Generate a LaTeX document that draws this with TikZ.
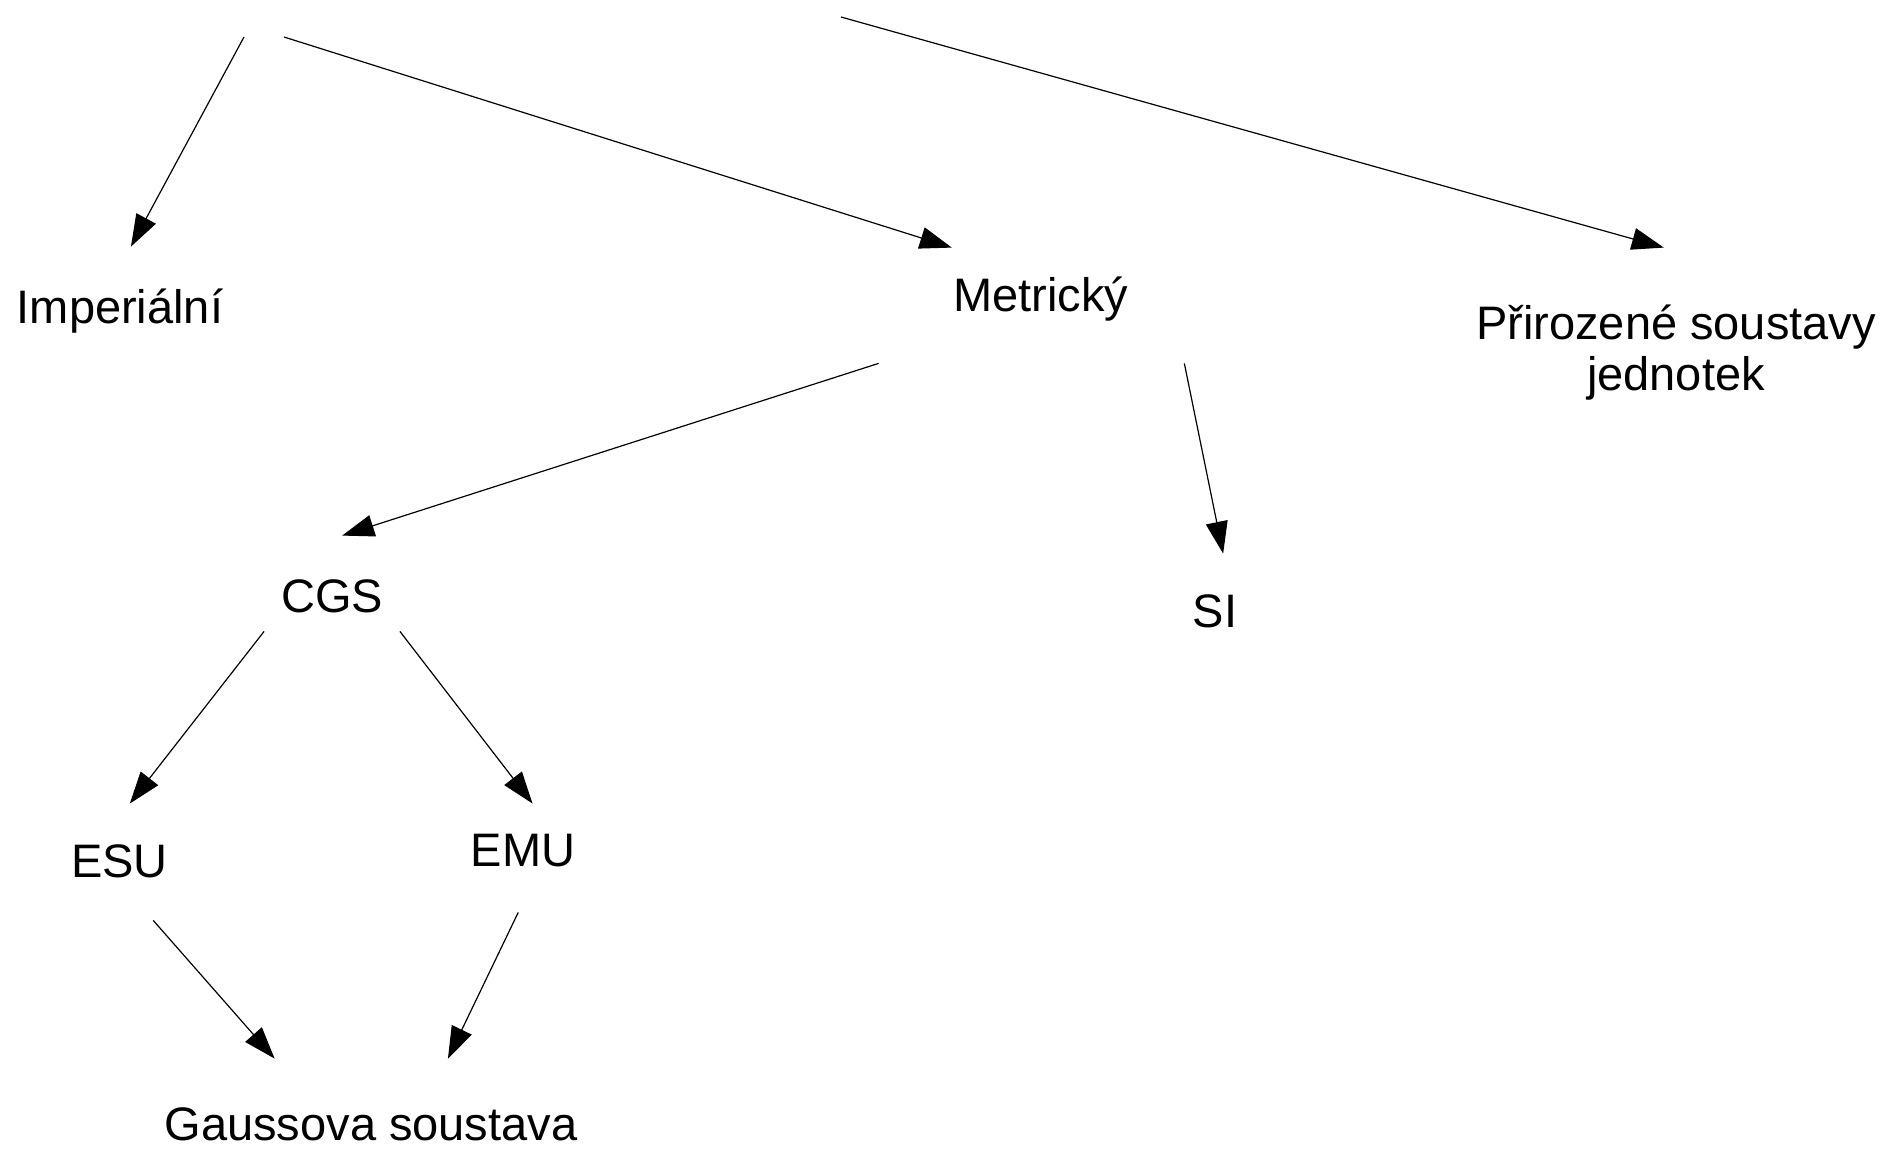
\documentclass[tikz,border=0pt]{standalone}
\usepackage{fontspec}
\setmainfont{Liberation Sans}
\usetikzlibrary{arrows.meta}

\begin{document}
\begin{tikzpicture}[x=0.5pt,y=-0.5pt,
  lbl/.style={inner sep=0pt,anchor=base,font=\fontsize{23.5}{25.5}\selectfont},
  arr/.style={-{Triangle[length=16pt,width=11pt]},line width=0.6pt}]

% Frame
\useasboundingbox (0,0) rectangle (1886,1150);

% Free ends of the top arrows
\coordinate (src1) at (244,37);
\coordinate (src2) at (284,37);
\coordinate (src3) at (841,17);

% Systems
\node[lbl,text height=38.5pt,text depth=5pt] (imp) at (120,324) {Imperiální};
\node[lbl,text height=32pt,text depth=25.5pt,minimum width=162pt] (met) at (1041,312) {Metrický};
\node[lbl,align=center,text height=71.5pt,text depth=5pt] (pri) at (1676,391) {Přirozené soustavy\\jednotek};
\node[lbl,text height=38pt,text depth=9.5pt,minimum width=67.5pt] (cgs) at (332,612) {CGS};
\node[lbl,text height=36.5pt,text depth=5pt] (si) at (1215,627) {SI};
\node[lbl,text height=36.5pt,text depth=21.5pt] (esu) at (119.5,877) {ESU};
\node[lbl,text height=31pt,text depth=23pt] (emu) at (523,866) {EMU};
\node[lbl,text height=40.5pt,text depth=0pt] (gau) at (371,1140) {Gaussova soustava};

% Arrows
\draw[arr] (src1) -- (imp.76);
\draw[arr] (src2) -- (met.147);
\draw[arr] (src3) -- (pri.99);
\draw[arr] (met.south west) -- (cgs.78);
\draw[arr] (met.338.5) -- (si.79);
\draw[arr] (cgs.south west) -- (esu.80);
\draw[arr] (cgs.south east) -- (emu.80);
\draw[arr] (esu.300) -- (gau.157.5);
\draw[arr] (emu.265) -- (gau.28.7);

\end{tikzpicture}
\end{document}
